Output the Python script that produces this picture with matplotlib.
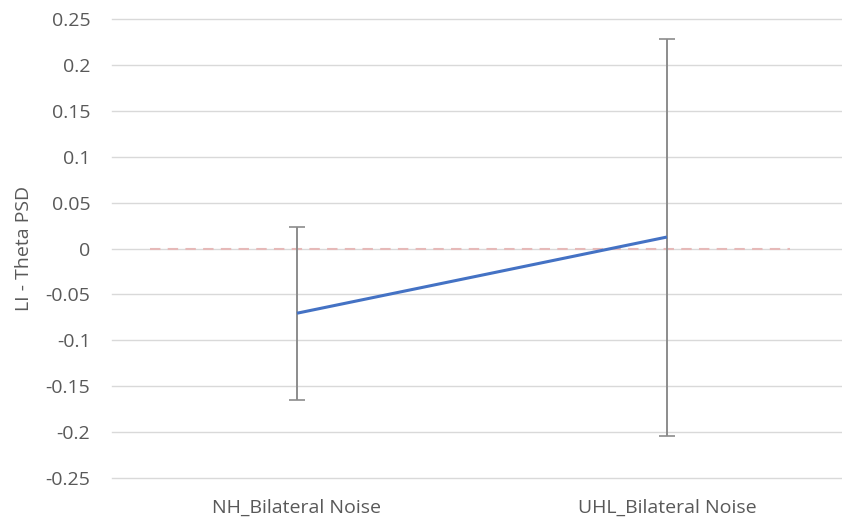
import matplotlib.pyplot as plt

categories = ['NH_Bilateral Noise', 'UHL_Bilateral Noise']
means = [-0.0705, 0.0125]
err_low = [-0.1645, -0.2045]
err_high = [0.0235, 0.2285]
zero_x = [-0.397, 1.332]
zero_y = [0, 0]
yticks = [-0.25, -0.2, -0.15, -0.1, -0.05, 0, 0.05, 0.1, 0.15, 0.2, 0.25]
ytick_labels = ['-0.25', '-0.2', '-0.15', '-0.1', '-0.05', '0', '0.05', '0.1', '0.15', '0.2', '0.25']

plt.rcParams['font.family'] = ['Open Sans', 'DejaVu Sans']
text_col = '#595959'

fig = plt.figure(figsize=(8.42, 5.18), dpi=100)
ax = fig.add_axes([112 / 842, 1 - 478 / 518, 1 - 112 / 842, (478 - 19) / 518])

x = list(range(len(categories)))
yerr = [[m - lo for m, lo in zip(means, err_low)],
        [hi - m for m, hi in zip(means, err_high)]]

ax.plot(zero_x, zero_y, color='#E6B9B8', lw=1.5, ls=(0, (5, 3.5)), zorder=2)
ax.errorbar(x, means, yerr=yerr, fmt='none', ecolor='#8C8C8C', elinewidth=1.4,
            capsize=6, capthick=1.2, zorder=3)
ax.plot(x, means, color='#4472C4', lw=2.2, zorder=4, solid_capstyle='butt')

ax.set_xlim(-0.5, (842 - 112) / 370 - 0.5)
ax.set_ylim(-0.25, 0.25)
ax.set_yticks(yticks)
ax.set_yticklabels(ytick_labels)
ax.set_xticks(x)
ax.set_xticklabels(categories)
ax.grid(axis='y', color='#D9D9D9', lw=1)
for gl in ax.get_ygridlines():
    gl.set_clip_on(False)
ax.set_axisbelow(True)
for s in ax.spines.values():
    s.set_visible(False)
ax.tick_params(length=0, colors=text_col, labelsize=14)
ax.tick_params(axis='y', pad=15.5)
ax.tick_params(axis='x', pad=15)
ax.set_ylabel('LI - Theta PSD', color=text_col, fontsize=14, labelpad=9)

fig.savefig('out.png', dpi=100)
